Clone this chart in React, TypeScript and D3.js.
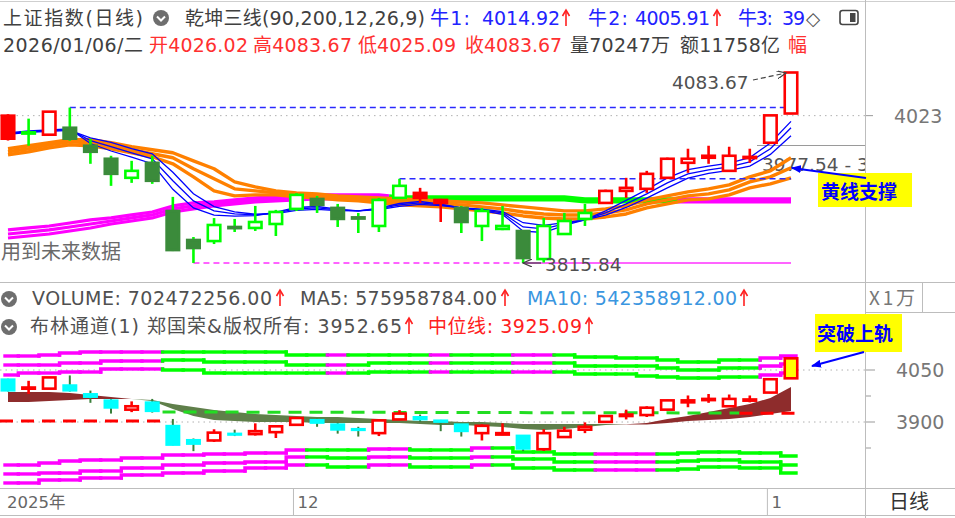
import React from 'react';
import * as d3 from 'd3';

const dates = [
  '2025-11-11','2025-11-12','2025-11-13','2025-11-14','2025-11-17','2025-11-18','2025-11-19','2025-11-20','2025-11-21','2025-11-24','2025-11-25','2025-11-26','2025-11-27','2025-11-28',
  '2025-12-01','2025-12-02','2025-12-03','2025-12-04','2025-12-05','2025-12-08','2025-12-09','2025-12-10','2025-12-11','2025-12-12','2025-12-15','2025-12-16','2025-12-17','2025-12-18','2025-12-19','2025-12-22','2025-12-23','2025-12-24','2025-12-25','2025-12-26','2025-12-29','2025-12-30','2025-12-31',
  '2026-01-05','2026-01-06'];

const open = [4023.0,3998.0,3996.2,4006.0,3980.7,3962.4,3935.6,3956.7,3889.0,3848.2,3846.7,3866.5,3865.1,3870.7,3891.9,3905.9,3893.3,3880.0,3867.9,3907.4,3914.4,3904.5,3893.3,3867.9,3863.7,3860.8,3821.4,3856.6,3877.8,3900.3,3917.2,3920.1,3935.6,3956.7,3963.8,3945.4,3964.0,3984.9,4026.02];
const high = [4025.0,4018.8,4029.5,4034.3,3990.6,3966.6,3959.5,3966.6,3908.8,3852.4,3879.0,3877.8,3896.1,3890.5,3914.0,3910.2,3898.9,3886.2,3907.4,3934.2,3921.5,3906.0,3896.1,3893.3,3896.1,3862.0,3879.1,3886.2,3898.9,3919.0,3935.6,3945.4,3964.0,3976.5,3980.7,3979.3,3976.5,4024.0,4083.67];
const low = [3988.0,3980.7,3995.0,3987.7,3955.3,3924.3,3928.5,3927.1,3832.6,3815.9,3842.5,3859.4,3860.9,3853.8,3889.0,3886.2,3866.5,3858.0,3859.4,3906.0,3900.3,3873.5,3858.0,3846.7,3862.0,3815.84,3816.5,3856.0,3867.9,3899.0,3907.4,3914.4,3934.0,3942.6,3955.3,3944.0,3956.7,3983.0,4025.09];
const close = [3990.6,3999.5,4028.6,3990.6,3972.2,3941.2,3945.4,3931.4,3834.0,3836.9,3869.3,3865.0,3873.5,3887.6,3911.6,3897.5,3877.8,3878.6,3904.5,3924.3,3907.4,3900.3,3873.5,3889.0,3867.9,3822.8,3867.9,3874.9,3886.2,3917.2,3921.5,3941.2,3962.4,3962.4,3966.6,3966.6,3965.0,4023.4,4083.67];
const mainColor = ['r','g','r','g','g','g','g','g','g','g','g','g','g','g','g','g','g','g','g','g','r','r','g','g','g','g','g','g','g','r','r','r','r','r','r','r','r','r','r'];

// 乾坤三线 lines (price units)
const bull1 = [3998.6,4001.4,4002.9,4004.3,3983.8,3973.3,3964.8,3955.4,3919.4,3893.2,3883.1,3881.8,3882.4,3887.2,3893.9,3895.3,3891.5,3889.1,3892.9,3899.5,3902.3,3898.5,3893.3,3889.5,3884.2,3860.5,3858.7,3868.7,3876.4,3889.2,3903.9,3919.0,3935.5,3947.2,3951.9,3956.1,3964.1,3984.5,4014.92];
const bull2 = [3997.6,4000.4,4001.9,4003.3,3987.8,3979.3,3970.8,3962.4,3931.4,3903.2,3889.1,3884.8,3883.4,3886.2,3891.9,3893.3,3890.5,3889.1,3891.9,3897.5,3900.3,3897.5,3893.3,3890.5,3886.2,3866.5,3863.7,3870.7,3876.4,3886.2,3898.9,3913.0,3928.5,3941.2,3946.9,3951.1,3958.1,3976.5,4005.91];
const bull3 = [3996.6,3999.4,4000.9,4002.3,3991.8,3985.3,3976.8,3969.4,3943.4,3913.2,3895.1,3887.8,3884.4,3885.2,3889.9,3891.3,3889.5,3889.1,3890.9,3895.5,3898.3,3896.5,3893.3,3891.5,3888.2,3872.5,3868.7,3872.7,3876.4,3883.2,3893.9,3907.0,3921.5,3935.2,3941.9,3946.1,3952.1,3968.5,3994.7];
const orange1 = [3976.5,3980.7,3984.9,3989.2,3989.2,3984.9,3979.3,3975.1,3970.8,3959.5,3948.3,3929.9,3922.9,3917.3,3914.4,3913.0,3910.2,3908.8,3907.4,3906.0,3904.6,3903.2,3901.7,3900.3,3897.5,3894.7,3891.9,3889.1,3889.1,3891.9,3896.1,3904.6,3910.2,3915.8,3920.1,3925.7,3937.0,3945.5,3963.8];
const orange2 = [3972.2,3976.5,3982.1,3986.3,3984.9,3980.7,3975.1,3969.4,3963.8,3948.3,3934.2,3920.1,3917.3,3914.4,3911.6,3910.2,3907.4,3906.0,3903.2,3901.7,3900.3,3898.9,3897.5,3894.7,3891.9,3887.6,3884.8,3883.4,3883.4,3886.2,3890.5,3898.9,3904.6,3910.2,3913.0,3918.7,3929.9,3937.0,3949.7];
const orange3 = [3968.0,3972.2,3977.9,3982.1,3980.7,3976.5,3970.8,3965.2,3955.3,3937.0,3917.3,3910.2,3911.6,3911.6,3908.8,3907.4,3904.6,3903.2,3900.3,3897.5,3896.1,3894.7,3891.9,3889.1,3886.2,3882.0,3879.2,3877.8,3877.8,3880.6,3884.8,3893.3,3898.9,3904.6,3906.0,3911.6,3921.5,3927.1,3935.6];
const slow1 = [3862.3,3865.1,3867.9,3872.1,3876.4,3879.2,3883.4,3887.6,3896.1,3900.3,3901.7,3904.6,3907.4,3908.8,3910.2,3911.6,3911.6,3911.6,3911.6,3908.8,3908.8,3908.8,3908.8,3908.8,3908.8,3908.8,3908.8,3908.8,3906.0,3906.0,3906.0,3906.0,3906.0,3906.0,3906.0,3906.0,3906.0,3906.0,3906.0];
const slow2 = [3856.6,3859.4,3862.3,3866.5,3870.7,3874.9,3879.2,3883.4,3891.9,3896.1,3898.9,3901.7,3904.6,3906.0,3907.4,3908.8,3908.8,3908.8,3908.8,3906.7,3906.7,3906.7,3906.7,3906.7,3906.7,3906.7,3906.7,3906.7,3903.9,3903.9,3903.9,3903.9,3903.9,3903.9,3903.9,3903.9,3903.9,3903.9,3903.9];
const slow3 = [3851.0,3853.8,3856.6,3860.8,3865.1,3870.7,3874.9,3879.2,3887.6,3891.9,3896.1,3898.9,3901.7,3903.2,3904.6,3906.0,3906.0,3906.0,3906.0,3904.6,3904.6,3904.6,3904.6,3904.6,3904.6,3904.6,3904.6,3904.6,3901.7,3901.7,3901.7,3901.7,3901.7,3901.7,3901.7,3901.7,3901.7,3901.7,3901.7];
const slowColor = ['m','m','m','m','m','m','m','m','m','m','m','m','m','m','m','m','m','m','m','g','g','g','g','g','g','g','g','g','g','g','g','g','g','m','m','m','m','m','m'];

// 布林通道 (lower panel)
const upper1 = [4090.4,4090.4,4093.3,4099.0,4101.9,4101.9,4101.9,4101.9,4101.9,4101.9,4101.9,4101.9,4101.9,4101.9,4093.3,4093.3,4093.3,4093.3,4093.3,4093.3,4093.3,4093.3,4093.3,4093.3,4093.3,4093.3,4093.3,4093.3,4087.5,4087.5,4084.6,4084.6,4078.8,4073.1,4073.1,4078.8,4078.8,4084.6,4090.4];
const upper2 = [4064.4,4064.4,4064.4,4070.2,4070.2,4076.0,4076.0,4076.0,4078.8,4078.8,4073.1,4073.1,4073.1,4073.1,4064.4,4064.4,4064.4,4064.4,4070.2,4070.2,4070.2,4070.2,4070.2,4070.2,4070.2,4070.2,4070.2,4070.2,4061.5,4061.5,4061.5,4061.5,4055.8,4050.0,4050.0,4055.8,4055.8,4061.5,4067.3];
const upper3 = [4035.6,4041.3,4041.3,4044.2,4044.2,4052.9,4052.9,4052.9,4050.0,4050.0,4041.3,4041.3,4041.3,4041.3,4041.3,4041.3,4041.3,4041.3,4044.2,4044.2,4044.2,4044.2,4044.2,4044.2,4044.2,4044.2,4044.2,4044.2,4038.5,4038.5,4038.5,4032.7,4029.8,4026.9,4026.9,4029.8,4029.8,4035.6,4041.3];
const lower1 = [3776.0,3776.0,3781.8,3787.6,3790.4,3790.4,3796.2,3796.2,3804.9,3804.9,3807.7,3807.7,3810.6,3810.6,3819.3,3819.3,3819.3,3819.3,3822.2,3822.2,3819.3,3819.3,3819.3,3825.0,3825.0,3813.5,3813.5,3807.7,3807.7,3807.7,3807.7,3807.7,3807.7,3810.6,3813.5,3813.5,3810.6,3810.6,3802.0];
const lower2 = [3750.1,3750.1,3752.9,3752.9,3758.7,3758.7,3767.4,3767.4,3776.0,3776.0,3781.8,3781.8,3784.7,3784.7,3799.1,3799.1,3796.2,3796.2,3799.1,3799.1,3796.2,3796.2,3796.2,3799.1,3799.1,3793.3,3793.3,3784.7,3784.7,3784.7,3784.7,3784.7,3784.7,3787.6,3790.4,3790.4,3784.7,3784.7,3776.0];
const lower3 = [3724.1,3724.1,3732.8,3732.8,3738.5,3738.5,3747.2,3747.2,3753.0,3753.0,3758.7,3758.7,3767.4,3767.4,3776.0,3776.0,3770.3,3770.3,3776.0,3776.0,3770.3,3770.3,3770.3,3776.0,3776.0,3767.4,3767.4,3761.6,3761.6,3761.6,3761.6,3761.6,3761.6,3764.5,3770.3,3770.3,3767.4,3767.4,3753.0];
const upperColor = ['m','m','m','m','m','m','m','m','g','g','g','g','g','g','g','g','m','g','g','g','g','m','g','g','g','m','m','g','g','g','g','g','g','g','g','g','g','m','m'];
const lowerColor = ['m','m','m','m','m','m','m','m','m','m','m','m','m','m','m','g','g','g','m','m','g','g','g','m','g','g','g','g','g','m','m','m','g','g','g','g','g','g','g'];
const middle = [3902.9,3902.9,3902.9,3902.9,3902.9,3902.9,3902.9,3902.9,3928.9,3928.9,3928.9,3928.9,3928.9,3928.9,3928.9,3928.9,3928.9,3928.9,3928.9,3928.9,3928.9,3928.9,3928.9,3928.9,3928.9,3928.9,3928.9,3928.9,3928.9,3926.0,3926.0,3926.0,3926.0,3926.0,3926.0,3926.0,3925.09,3925.09,3925.09];
const middleColor = ['r','r','r','r','r','r','r','r','g','g','g','g','g','g','g','g','g','g','g','g','g','g','g','g','g','g','g','g','g','g','g','g','g','g','g','g','r','r','r'];
const fastBand = [3986.6,3986.6,3986.6,3983.7,3977.9,3972.1,3966.4,3960.6,3937.5,3917.3,3905.8,3902.9,3900.0,3900.0,3900.0,3897.1,3897.1,3897.1,3897.1,3897.1,3894.3,3891.4,3891.4,3888.5,3885.6,3879.8,3876.9,3879.8,3885.6,3891.4,3893.5,3897.1,3908.7,3917.3,3928.9,3940.4,3951.9,3969.2,4001.0];
const slowBand = [3957.7,3957.7,3960.6,3963.5,3966.4,3966.4,3966.4,3963.5,3951.9,3943.3,3934.6,3928.9,3923.1,3920.2,3917.3,3914.5,3914.5,3911.6,3908.7,3905.8,3902.9,3902.9,3900.0,3900.0,3897.1,3894.3,3894.3,3894.3,3894.3,3894.3,3892.8,3892.8,3897.1,3902.9,3905.8,3908.7,3914.5,3923.1,3931.8];
const breakoutDates = ['2026-01-06'];

const mainTicks = [4023];
const lowerTicks = [4050, 3900];
const lowerMinorTicks = [4125, 3975, 3825];
const monthTicks = [
  { date: '2025-11-11', label: '2025年' },
  { date: '2025-12-01', label: '12' },
  { date: '2026-01-05', label: '1' },
];

const FONT = "'DejaVu Sans','Noto Sans CJK SC',sans-serif";
const CJK = "'Noto Sans CJK SC','DejaVu Sans',sans-serif";
const COL: Record<string, string> = { m: '#ff00ff', g: '#00ff00', r: '#ff0000' };

function runs(colors: string[]): [number, number, string][] {
  const out: [number, number, string][] = [];
  let s = 0;
  for (let i = 1; i <= colors.length; i++) {
    if (i === colors.length || colors[i] !== colors[s]) {
      out.push([s, i - 1, colors[s]]);
      s = i;
    }
  }
  return out;
}

const Icon = ({ cx, cy }: { cx: number; cy: number }) => (
  <g>
    <circle cx={cx} cy={cy} r={8} fill="#6e6e6e" />
    <path d={`M${cx - 4},${cy - 1.5} L${cx},${cy + 2.5} L${cx + 4},${cy - 1.5}`} stroke="#fff" strokeWidth={2} fill="none" />
  </g>
);

const Up = ({ x, y }: { x: number; y: number }) => (
  <g>
    <line x1={x} x2={x} y1={y} y2={y - 15} stroke="#ff2020" strokeWidth={1.6} />
    <path d={`M${x - 3.5},${y - 10} L${x},${y - 16} L${x + 3.5},${y - 10}`} fill="none" stroke="#ff2020" strokeWidth={1.6} />
  </g>
);

const T = ({ x, y, w, fill, children, size = 19 }: any) => (
  <text x={x} y={y} fontFamily={FONT} fontSize={size} fill={fill} textLength={w} lengthAdjust="spacing">{children}</text>
);

export default function App() {
  const n = dates.length;
  const xs = d3.scalePoint<string>().domain(dates).range([8, 791]);
  const step = xs.step();
  const X = (i: number) => xs(dates[i]) as number;
  const yM = d3.scaleLinear().domain([3815.84, 4083.67]).range([263, 72.5]);
  const yL = d3.scaleLinear().domain([3900, 4050]).range([422, 370]);
  const idx = d3.range(n);

  const lineMain = (arr: number[]) =>
    d3.line<number>().x((i) => X(i)).y((i) => yM(arr[i]))(idx) as string;

  const coloredRuns = (arr: number[], colors: string[]) =>
    runs(colors).map(([s, e, c]) => {
      const pts: [number, number][] = [];
      if (s > 0) pts.push([(X(s - 1) + X(s)) / 2, (arr[s - 1] + arr[s]) / 2]);
      for (let i = s; i <= e; i++) pts.push([X(i), arr[i]]);
      if (e < n - 1) pts.push([(X(e) + X(e + 1)) / 2, (arr[e] + arr[e + 1]) / 2]);
      return { d: d3.line<[number, number]>().x((p) => p[0]).y((p) => yM(p[1]))(pts) as string, c: COL[c] };
    });

  const stepPaths = (arr: number[], colors: string[]) =>
    idx.map((i) => {
      const left = i === 0 ? X(0) - 3 : X(i) - step / 2;
      const right = i === n - 1 ? X(i) + 5 : X(i) + step / 2;
      const y1 = yL(arr[i]);
      const d = i === 0 ? `M${left},${y1}H${right}` : `M${left},${yL(arr[i - 1])}V${y1}H${right}`;
      return { d, c: COL[colors[i]] };
    });

  const redArea = d3.area<number>().x((i) => X(i)).y0((i) => yL(slowBand[i])).y1((i) => yL(Math.max(fastBand[i], slowBand[i])))(idx) as string;
  const greenArea = d3.area<number>().x((i) => X(i)).y0((i) => yL(slowBand[i])).y1((i) => yL(Math.min(fastBand[i], slowBand[i])))(idx) as string;

  const bw = 12.5;

  const mainCandle = (i: number) => {
    const o = open[i], c = close[i], h = high[i], l = low[i];
    const x = X(i);
    const up = c >= o;
    const red = mainColor[i] === 'r';
    const top = yM(Math.max(o, c));
    const bh = Math.max(yM(Math.min(o, c)) - top, 1.2);
    let fill: string, stroke: string;
    if (red) { fill = up ? '#ffffff' : '#ff0000'; stroke = '#ff0000'; }
    else { fill = up ? '#ffffff' : '#3b8b3b'; stroke = up ? '#00ff00' : '#3b8b3b'; }
    return (
      <g key={'mc' + i}>
        <line x1={x} x2={x} y1={yM(h)} y2={yM(l)} stroke={red ? '#ff0000' : '#00ff00'} strokeWidth={2.6} />
        <rect x={x - bw / 2} y={top} width={bw} height={bh} fill={fill} stroke={stroke} strokeWidth={2.6} />
      </g>
    );
  };

  const lowerCandle = (i: number) => {
    const o = open[i], c = close[i], h = high[i], l = low[i];
    const x = X(i);
    const up = c >= o;
    const top = yL(Math.max(o, c));
    const bh = Math.max(yL(Math.min(o, c)) - top, 1.2);
    const yellow = breakoutDates.includes(dates[i]);
    if (up || yellow) {
      return (
        <g key={'lc' + i}>
          <line x1={x} x2={x} y1={yL(h)} y2={yL(l)} stroke="#ff0000" strokeWidth={2.6} />
          <rect x={x - bw / 2} y={top} width={bw} height={bh} fill={yellow ? '#ffff00' : '#ffffff'} stroke="#ff0000" strokeWidth={2.6} />
        </g>
      );
    }
    return (
      <g key={'lc' + i}>
        <line x1={x} x2={x} y1={yL(h)} y2={yL(l)} stroke="#3a7f3a" strokeWidth={2} />
        <rect x={x - 7.5} y={top - 1} width={15} height={bh + 2} fill="#00ffff" />
      </g>
    );
  };

  const hdr = { fontFamily: FONT, fontSize: 18.5 } as const;
  const xEnd = X(n - 1);

  return (
    <div style={{ position: 'absolute', left: 0, top: 0 }}>
      <svg width={955} height={518} style={{ display: 'block', background: '#fff' }}>
        <defs>
          <clipPath id="mainClip"><rect x={0} y={56} width={865} height={226} /></clipPath>
          <clipPath id="lowClip"><rect x={0} y={313} width={865} height={175} /></clipPath>
          <marker id="blueArrow" markerWidth={10} markerHeight={8} refX={9} refY={4} orient="auto" markerUnits="userSpaceOnUse">
            <path d="M0,0 L10,4 L0,8 Z" fill="#0000ff" />
          </marker>
          <marker id="grayArrow" markerWidth={10} markerHeight={8} refX={9} refY={4} orient="auto" markerUnits="userSpaceOnUse">
            <path d="M0,0 L9,4 L0,8" fill="none" stroke="#444" strokeWidth={1.2} />
          </marker>
        </defs>
        <rect x={0} y={0} width={955} height={518} fill="#fff" />

        {/* frame */}
        <line x1={0} x2={955} y1={1.5} y2={1.5} stroke="#cfcfcf" />
        <line x1={865.5} x2={865.5} y1={0} y2={518} stroke="#bdbdbd" />
        <line x1={0} x2={955} y1={282.5} y2={282.5} stroke="#bdbdbd" />
        <line x1={865} x2={955} y1={312.5} y2={312.5} stroke="#bdbdbd" />
        <line x1={922.5} x2={922.5} y1={283} y2={312} stroke="#bdbdbd" />
        <line x1={0} x2={955} y1={488.5} y2={488.5} stroke="#bdbdbd" />
        <line x1={0} x2={955} y1={515.5} y2={515.5} stroke="#bdbdbd" />

        {/* header line 1 */}
        <T x={3} y={25} w={140} fill="#404040">上证指数(日线)</T>
        <Icon cx={161} cy={18} />
        <T x={185} y={25} w={240} fill="#404040">乾坤三线(90,200,12,26,9)</T>
        <T x={430} y={25} w={40} fill="#2222ff">牛1:</T>
        <T x={482} y={25} w={78} fill="#2222ff">4014.92</T>
        <Up x={566} y={26} />
        <T x={588} y={25} w={40} fill="#2222ff">牛2:</T>
        <T x={635} y={25} w={75} fill="#2222ff">4005.91</T>
        <Up x={717} y={26} />
        <T x={738} y={25} w={35} fill="#2222ff">牛3:</T>
        <T x={782} y={25} w={23} fill="#2222ff">39</T>
        <text x={806} y={25} {...hdr} fill="#555">◇</text>
        <rect x={840} y={10.5} width={18} height={14} rx={2.5} fill="none" stroke="#444" strokeWidth={1.6} />
        <rect x={850} y={13} width={5.5} height={9} fill="#444" />

        {/* header line 2 */}
        <T x={3} y={52} w={140} fill="#404040">2026/01/06/二</T>
        <T x={149} y={52} w={99} fill="#ff3030">开4026.02</T>
        <T x={253} y={52} w={99} fill="#ff3030">高4083.67</T>
        <T x={358} y={52} w={98} fill="#ff3030">低4025.09</T>
        <T x={465} y={52} w={97} fill="#ff3030">收4083.67</T>
        <T x={570} y={52} w={100} fill="#404040">量70247万</T>
        <T x={680} y={52} w={100} fill="#404040">额11758亿</T>
        <T x={788} y={52} w={19} fill="#ff3030">幅</T>

        {/* main panel */}
        <g clipPath="url(#mainClip)">
          {mainTicks.map((t) => (
            <line key={t} x1={0} x2={865} y1={yM(t)} y2={yM(t)} stroke="#b0b0b0" strokeDasharray="1.5 4" />
          ))}
          <line x1={757} x2={865} y1={145.5} y2={145.5} stroke="#9a9a9a" />
          <text x={1} y={259} fontFamily={CJK} fontSize={20} fill="#6a6a6a">用到未来数据</text>
          <text x={762} y={171} {...hdr} fill="#555">3977.54 - 3</text>

          {[slow3, slow2, slow1].map((arr, k) =>
            coloredRuns(arr, slowColor).map((r, j) => (
              <path key={`s${k}-${j}`} d={r.d} fill="none" stroke={r.c} strokeWidth={3.2} strokeLinejoin="round" />
            ))
          )}
          {[orange3, orange2, orange1].map((arr, k) => (
            <path key={'o' + k} d={lineMain(arr)} fill="none" stroke="#ff8000" strokeWidth={3.4} strokeLinejoin="round" />
          ))}
          {[bull3, bull2, bull1].map((arr, k) => (
            <path key={'b' + k} d={lineMain(arr)} fill="none" stroke="#0000ff" strokeWidth={1.3} />
          ))}

          <line x1={X(3)} x2={xEnd} y1={yM(high[3])} y2={yM(high[3])} stroke="#2a2aff" strokeWidth={1.5} strokeDasharray="6 4" />
          <line x1={X(19)} x2={xEnd} y1={yM(high[19])} y2={yM(high[19])} stroke="#2a2aff" strokeWidth={1.5} strokeDasharray="6 4" />
          <line x1={X(9)} x2={X(25)} y1={yM(low[25])} y2={yM(low[25])} stroke="#ff30ff" strokeWidth={1.5} strokeDasharray="6 4" />
          <line x1={X(25)} x2={xEnd} y1={yM(low[25])} y2={yM(low[25])} stroke="#ff30ff" strokeWidth={1.5} />

          {idx.map(mainCandle)}

          <text x={672} y={89} {...hdr} fill="#505050">4083.67</text>
          <line x1={753} y1={80} x2={786} y2={73} stroke="#444" strokeWidth={1.2} strokeDasharray="5 3" markerEnd="url(#grayArrow)" />
          <line x1={541} y1={yM(low[25])} x2={523} y2={yM(low[25])} stroke="#444" strokeWidth={1.2} markerEnd="url(#grayArrow)" />
          <text x={545} y={271} {...hdr} fill="#505050">3815.84</text>
        </g>

        {/* main axis */}
        {mainTicks.map((t) => (
          <g key={'mt' + t}>
            <line x1={866} x2={873} y1={yM(t)} y2={yM(t)} stroke="#999" />
            <text x={894} y={yM(t) + 7} fontFamily={FONT} fontSize={19} fill="#777">{t}</text>
          </g>
        ))}

        {/* annotation 黄线支撑 */}
        <rect x={818} y={173} width={94} height={34} fill="#ffff00" />
        <text x={821} y={199} fontFamily={CJK} fontSize={19} fontWeight="bold" fill="#0000ff">黄线支撑</text>
        <line x1={866} y1={178} x2={792} y2={168} stroke="#0000ff" strokeWidth={2} markerEnd="url(#blueArrow)" />

        {/* volume / boll headers */}
        <Icon cx={9} cy={299} />
        <T x={32} y={305} w={240} fill="#505050">VOLUME: 702472256.00</T>
        <Up x={280} y={306} />
        <T x={300} y={305} w={197} fill="#505050">MA5: 575958784.00</T>
        <Up x={505} y={306} />
        <T x={527} y={305} w={210} fill="#3a96e0">MA10: 542358912.00</T>
        <Up x={744} y={306} />
        <text x={869} y={305} fontFamily={CJK} fontSize={19} fill="#777" textLength={46} lengthAdjust="spacing">X1万</text>

        <Icon cx={9} cy={327} />
        <T x={30} y={333} w={372} fill="#505050">布林通道(1) 郑国荣&amp;版权所有: 3952.65</T>
        <Up x={409} y={334} />
        <T x={428} y={333} w={154} fill="#ff2020">中位线: 3925.09</T>
        <Up x={589} y={334} />

        {/* lower panel */}
        <g clipPath="url(#lowClip)">
          {lowerTicks.map((t) => (
            <line key={'lg' + t} x1={0} x2={865} y1={yL(t)} y2={yL(t)} stroke="#b0b0b0" strokeDasharray="1.5 4" />
          ))}
          {[upper1, upper2, upper3].map((arr, k) =>
            stepPaths(arr, upperColor).map((p, i) => (
              <path key={`u${k}-${i}`} d={p.d} fill="none" stroke={p.c} strokeWidth={3.4} strokeLinecap="square" />
            ))
          )}
          {[lower1, lower2, lower3].map((arr, k) =>
            stepPaths(arr, lowerColor).map((p, i) => (
              <path key={`l${k}-${i}`} d={p.d} fill="none" stroke={p.c} strokeWidth={3.4} strokeLinecap="square" />
            ))
          )}
          <path d={greenArea} fill="#5f7f4a" />
          <path d={redArea} fill="#8e2c2c" />
          {runs(middleColor).map(([s, e, c], k) => (
            <line key={'md' + k} x1={s === 0 ? 0 : X(s) - step / 2} x2={e === n - 1 ? X(e) + 6 : X(e) + step / 2}
              y1={yL(middle[s])} y2={yL(middle[e])} stroke={c === 'r' ? '#ff0000' : '#22dd22'} strokeWidth={3} strokeDasharray="13 8" />
          ))}
          {idx.map(lowerCandle)}
        </g>

        {/* lower axis */}
        {lowerTicks.map((t) => (
          <g key={'lt' + t}>
            <line x1={866} x2={875} y1={yL(t)} y2={yL(t)} stroke="#999" />
            <text x={896} y={yL(t) + 7} fontFamily={FONT} fontSize={19} fill="#777">{t}</text>
          </g>
        ))}
        {lowerMinorTicks.map((t) => (
          <line key={'lm' + t} x1={866} x2={871} y1={yL(t)} y2={yL(t)} stroke="#999" />
        ))}

        {/* annotation 突破上轨 */}
        <rect x={815} y={314} width={87} height={38} fill="#ffff00" />
        <text x={817} y={341} fontFamily={CJK} fontSize={19} fontWeight="bold" fill="#0000ff">突破上轨</text>
        <line x1={864} y1={352} x2={812} y2={366} stroke="#0000ff" strokeWidth={2} markerEnd="url(#blueArrow)" />

        {/* x axis */}
        {monthTicks.map((m, k) => {
          const x = k === 0 ? 3 : (xs(m.date) as number) - 3;
          return (
            <g key={'xt' + k}>
              {k > 0 && <line x1={x} x2={x} y1={489} y2={515} stroke="#bdbdbd" />}
              <text x={x + 4} y={508} fontFamily={FONT} fontSize={16.5} fill="#666">{m.label}</text>
            </g>
          );
        })}
        <text x={889} y={509} fontFamily={CJK} fontSize={20} fill="#333">日线</text>
      </svg>
    </div>
  );
}
